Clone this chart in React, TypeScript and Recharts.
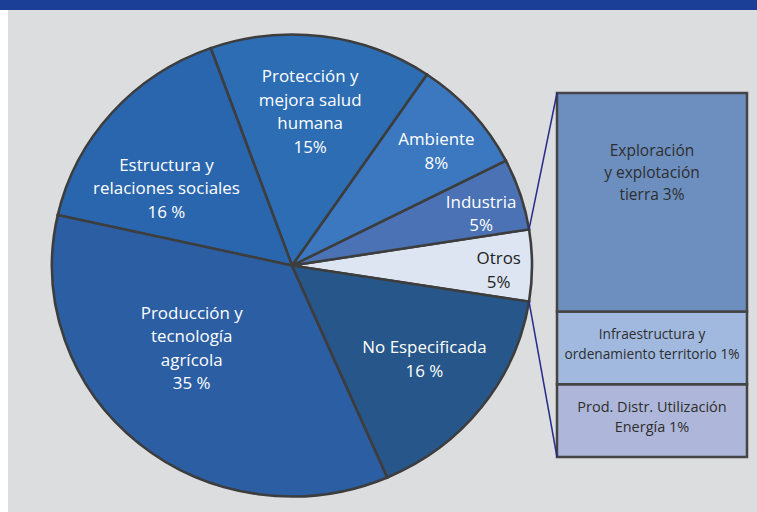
import React from 'react';
import { PieChart, Pie, Cell, BarChart, Bar, XAxis, YAxis, LabelList } from 'recharts';

// ---------- data ----------
const pieNames = [
  'Otros',
  'Industria',
  'Ambiente',
  'Protección y mejora salud humana',
  'Estructura y relaciones sociales',
  'Producción y tecnología agrícola',
  'No Especificada',
];
const pieValues = [5, 5, 8, 15, 16, 35, 16];
const pieLabelLines = [
  ['Otros', '5%'],
  ['Industria', '5%'],
  ['Ambiente', '8%'],
  ['Protección y', 'mejora salud', 'humana', '15%'],
  ['Estructura y', 'relaciones sociales', '16 %'],
  ['Producción y', 'tecnología', 'agrícola', '35 %'],
  ['No Especificada', '16 %'],
];

const barKeys = ['prod', 'infra', 'expl'];
const barNames = [
  'Prod. Distr. Utilización Energía',
  'Infraestructura y ordenamiento territorio',
  'Exploración y explotación tierra',
];
const barValues = [1, 1, 3];
const barLabelLines = [
  ['Prod. Distr. Utilización', 'Energía 1%'],
  ['Infraestructura y', 'ordenamiento territorio 1%'],
  ['Exploración', 'y explotación', 'tierra 3%'],
];

// ---------- styles ----------
const FONT = '"Open Sans", "Noto Sans", sans-serif';
const pieColors = ['#dde5f2', '#4a72b5', '#3b78c0', '#2c6db4', '#2a66ae', '#2b5ea3', '#27578a'];
const pieTextColors = ['#222222', '#ffffff', '#ffffff', '#ffffff', '#ffffff', '#ffffff', '#ffffff'];
// [radius fraction, angle deg, anchor]
const pieLabelSpots: [number, number, string][] = [
  [0.895, -1, 'middle'],
  [0.85, 15.6, 'middle'],
  [0.80, 38.6, 'middle'],
  [0.675, 83.3, 'middle'],
  [0.64, 148.1, 'middle'],
  [0.56, 219.2, 'middle'],
  [0.70, 325, 'middle'],
];
const barColors = ['#aeb7d9', '#a1b9df', '#6d8fc0'];
const barFontSizes = [14.5, 13.7, 15.5];
const barLineHeights = [20, 20, 22];

const PIE_CX = 292;
const PIE_CY = 265.5;
const PIE_R = 231;
const PIE_SX = 1.039;
const START_ANGLE = -9;

const BAR_LEFT = 557;
const BAR_TOP = 93;
const BAR_W = 190;
const BAR_H = 364;
const PAD = 2;

const pieData = pieNames.map((name, i) => ({ name, value: pieValues[i] }));
const barRow: Record<string, any> = { cat: 'Otros' };
barKeys.forEach((k, i) => {
  barRow[k] = barValues[i];
});
const barData = [barRow];
const pieTotal = pieValues.reduce((a, b) => a + b, 0);

const renderPieLabel = (props: any) => {
  const { cx, cy, outerRadius, index } = props;
  const [rf, ang, anchor] = pieLabelSpots[index];
  const rad = (ang * Math.PI) / 180;
  const x = cx + (outerRadius * rf * Math.cos(rad)) / PIE_SX;
  const y = cy - outerRadius * rf * Math.sin(rad);
  const lines = pieLabelLines[index];
  const lh = 23.5;
  const y0 = y - ((lines.length - 1) * lh) / 2;
  return (
    <text
      x={x}
      y={y0}
      textAnchor={anchor as any}
      dominantBaseline="central"
      fill={pieTextColors[index]}
      fontSize={16.3}
      fontFamily={FONT}
    >
      {lines.map((l, i) => (
        <tspan key={i} x={x} y={y0 + i * lh}>
          {l}
        </tspan>
      ))}
    </text>
  );
};

const makeBarLabel = (idx: number) => (props: any) => {
  const { x, y, width, height } = props;
  const lines = barLabelLines[idx];
  const lh = barLineHeights[idx];
  const cx = x + width / 2;
  let y0: number;
  if (idx === 2) {
    y0 = y + 57;
  } else {
    y0 = y + height / 2 - 5 - ((lines.length - 1) * lh) / 2;
  }
  return (
    <text
      x={cx}
      y={y0}
      textAnchor="middle"
      dominantBaseline="central"
      fill="#2e2e2e"
      fontSize={barFontSizes[idx]}
      fontFamily={FONT}
    >
      {lines.map((l, i) => (
        <tspan key={i} x={cx} y={y0 + i * lh}>
          {l}
        </tspan>
      ))}
    </text>
  );
};

const edgePoint = (angDeg: number) => {
  const rad = (angDeg * Math.PI) / 180;
  return {
    x: PIE_CX + PIE_R * PIE_SX * Math.cos(rad),
    y: PIE_CY - PIE_R * Math.sin(rad),
  };
};

export default function App() {
  const otrosStart = START_ANGLE;
  const otrosEnd = START_ANGLE + (pieValues[0] / pieTotal) * 360;
  const pTop = edgePoint(otrosEnd);
  const pBot = edgePoint(otrosStart);
  return (
    <div
      style={{
        position: 'absolute',
        left: 0,
        top: 0,
        width: 757,
        height: 512,
        background: '#dcdddf',
        overflow: 'hidden',
      }}
    >
      <div style={{ position: 'absolute', left: 0, top: 0, width: 8, height: 512, background: '#ffffff' }} />
      <div style={{ position: 'absolute', left: 0, top: 0, width: 757, height: 10, background: '#1b3e96' }} />
      <div
        style={{
          position: 'absolute',
          left: 0,
          top: 0,
          transform: `scaleX(${PIE_SX})`,
          transformOrigin: `${PIE_CX}px ${PIE_CY}px`,
        }}
      >
        <PieChart width={757} height={512} margin={{ top: 0, right: 0, bottom: 0, left: 0 }}>
          <Pie
            data={pieData}
            dataKey="value"
            nameKey="name"
            cx={PIE_CX}
            cy={PIE_CY}
            outerRadius={PIE_R}
            startAngle={START_ANGLE}
            endAngle={START_ANGLE + 360}
            stroke="#3d3d3d"
            strokeWidth={2.5}
            label={renderPieLabel}
            labelLine={false}
            isAnimationActive={false}
          >
            {pieData.map((d, i) => (
              <Cell key={d.name} fill={pieColors[i]} />
            ))}
          </Pie>
        </PieChart>
      </div>
      <div style={{ position: 'absolute', left: BAR_LEFT - PAD, top: BAR_TOP - PAD }}>
        <BarChart
          width={BAR_W + 2 * PAD}
          height={BAR_H + 2 * PAD}
          data={barData}
          margin={{ top: PAD, right: PAD, bottom: PAD, left: PAD }}
          barCategoryGap={0}
          barGap={0}
        >
          <XAxis dataKey="cat" hide />
          <YAxis hide domain={[0, 5]} />
          {barKeys.map((k, i) => (
            <Bar
              key={k}
              dataKey={k}
              name={barNames[i]}
              stackId="s"
              fill={barColors[i]}
              stroke="#444444"
              strokeWidth={2.5}
              isAnimationActive={false}
            >
              <LabelList dataKey={k} content={makeBarLabel(i)} />
            </Bar>
          ))}
        </BarChart>
      </div>
      <svg style={{ position: 'absolute', left: 0, top: 0 }} width={757} height={512}>
        <line x1={pTop.x} y1={pTop.y} x2={BAR_LEFT} y2={BAR_TOP} stroke="#262b8a" strokeWidth={1.5} />
        <line x1={pBot.x} y1={pBot.y} x2={BAR_LEFT} y2={BAR_TOP + BAR_H} stroke="#262b8a" strokeWidth={1.5} />
      </svg>
    </div>
  );
}
